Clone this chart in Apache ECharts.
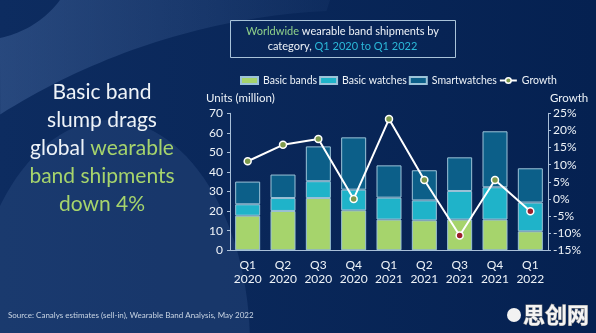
<!DOCTYPE html>
<html>
<head>
<meta charset="utf-8">
<script src="https://cdn.jsdelivr.net/npm/echarts@6/dist/echarts.min.js"></script>
<style>
  html, body { margin: 0; padding: 0; background: #0a2858; }
  #chart-container { width: 596px; height: 333px; }
</style>
</head>
<body>
<div id="chart-container"></div>
<script>
var quarters = ['Q1\n2020', 'Q2\n2020', 'Q3\n2020', 'Q4\n2020', 'Q1\n2021', 'Q2\n2021', 'Q3\n2021', 'Q4\n2021', 'Q1\n2022'];
var basicBands = [17.7, 20.1, 26.7, 20.4, 15.7, 15.3, 15.7, 15.7, 9.7];
var basicWatches = [5.8, 6.6, 8.6, 10.6, 11.2, 10.2, 14.6, 16.5, 14.7];
var smartwatches = [11.6, 12.0, 17.8, 26.7, 16.5, 15.4, 17.2, 28.6, 17.5];
var growth = [11.0, 15.8, 17.5, 0.0, 23.3, 5.5, -10.7, 5.5, -3.6];

var FONT = 'Lato';
var WHITE = '#eef3f8';
var GREEN = '#a6d46c';
var AXIS = '#a9bfd8';

// points along an ellipse arc, for the background shapes
function arcPts(cx, cy, rx, ry, a0, a1, n) {
  var pts = [];
  for (var i = 0; i <= n; i++) {
    var a = a0 + (a1 - a0) * i / n;
    pts.push([cx + rx * Math.cos(a), cy + ry * Math.sin(a)]);
  }
  return pts;
}

var deg = Math.PI / 180;
// swoosh: top edge, big circle arc back to the left edge, then corner arc
var swoosh = [[60, 0], [330, 0]]
  .concat(arcPts(362, 689, 679, 679, -93 * deg, -122.2 * deg, 40))
  .concat(arcPts(-20, -60, 100, 100, 78.5 * deg, 36.9 * deg, 20));
var lowCircle = arcPts(110, 345, 140, 225, 180 * deg, 360 * deg, 60);

var dom = document.getElementById('chart-container');
var myChart = echarts.init(dom, null, { renderer: 'canvas' });

var barBorder = { borderColor: '#9cc3d8', borderWidth: 1 };

var option = {
  backgroundColor: {
    type: 'linear', x: 0, y: 0, x2: 1, y2: 0,
    colorStops: [{ offset: 0, color: '#0d2c60' }, { offset: 1, color: '#052151' }]
  },
  animation: false,
  textStyle: { fontFamily: FONT },
  graphic: [
    {
      type: 'polygon', z: -10, silent: true,
      shape: { points: swoosh },
      style: {
        fill: {
          type: 'linear', x: 0, y: 0, x2: 1, y2: 0,
          colorStops: [{ offset: 0, color: 'rgba(80,115,170,0.40)' }, { offset: 1, color: 'rgba(80,115,170,0.08)' }]
        }
      }
    },
    {
      type: 'polygon', z: -10, silent: true,
      shape: { points: lowCircle },
      style: { fill: 'rgba(80,115,170,0.2)' }
    },
    // title box
    {
      type: 'rect', left: 230, top: 20,
      shape: { width: 225, height: 37 },
      style: { fill: 'rgba(0,0,0,0)', stroke: '#a9c3d9', lineWidth: 1 }
    },
    {
      type: 'text', x: 342.5, y: 38.5,
      style: {
        text: '{g|Worldwide} wearable band shipments by\ncategory, {c|Q1 2020 to Q1 2022}',
        align: 'center', verticalAlign: 'middle',
        fill: WHITE, font: '11px ' + FONT, lineHeight: 15,
        rich: {
          g: { fill: '#8fd08a', font: '11px ' + FONT },
          c: { fill: '#2bb8d8', font: '11px ' + FONT }
        }
      }
    },
    // headline
    {
      type: 'text', x: 102, y: 148,
      style: {
        text: 'Basic band\nslump drags\nglobal {g|wearable}\n{g|band shipments}\n{g|down 4%}',
        align: 'center', verticalAlign: 'middle',
        fill: WHITE, font: '21px ' + FONT, lineHeight: 28,
        rich: { g: { fill: GREEN, font: '21px ' + FONT } }
      }
    },
    // axis names
    {
      type: 'text', x: 206, y: 98,
      style: { text: 'Units (million)', fill: WHITE, font: '11.5px ' + FONT, verticalAlign: 'middle' }
    },
    {
      type: 'text', x: 550, y: 98,
      style: { text: 'Growth', fill: WHITE, font: '11.5px ' + FONT, verticalAlign: 'middle' }
    },
    // source
    {
      type: 'text', x: 8, y: 315,
      style: {
        text: 'Source: Canalys estimates (sell-in), Wearable Band Analysis, May 2022',
        fill: '#c9d5e4', font: '8px ' + FONT, verticalAlign: 'middle'
      }
    },
    // watermark
    {
      type: 'circle', shape: { cx: 514, cy: 315, r: 7 },
      style: { fill: '#f2f2f2' }
    },
    {
      type: 'text', x: 523, y: 315,
      style: {
        text: '思创网', fill: '#f4f4f4', stroke: '#8a8a8a', lineWidth: 1,
        font: 'bold 22px "Noto Sans CJK SC"', verticalAlign: 'middle'
      }
    }
  ],
  legend: {
    data: [
      { name: 'Basic bands', icon: 'rect' },
      { name: 'Basic watches', icon: 'rect' },
      { name: 'Smartwatches', icon: 'rect' },
      { name: 'Growth', itemStyle: { color: '#7e9a4c', borderColor: '#ffffff', borderWidth: 1.5 } }
    ],
    left: 235,
    top: 70,
    itemWidth: 17,
    itemHeight: 7,
    itemGap: 2,
    textStyle: { color: WHITE, fontSize: 10.5, fontFamily: FONT }
  },
  grid: {
    left: 230,
    right: 48,
    top: 113.3,
    bottom: 82.7
  },
  xAxis: {
    type: 'category',
    data: quarters,
    axisLine: { lineStyle: { color: AXIS, width: 1 } },
    axisTick: { show: false },
    axisLabel: { color: WHITE, fontSize: 12, lineHeight: 14, margin: 8, interval: 0 }
  },
  yAxis: [
    {
      type: 'value',
      min: 0, max: 70, interval: 10,
      axisLine: { show: true, lineStyle: { color: AXIS } },
      axisTick: { show: true, length: 3, lineStyle: { color: AXIS } },
      axisLabel: { color: WHITE, fontSize: 12, margin: 7 },
      splitLine: { show: false }
    },
    {
      type: 'value',
      min: -15, max: 25, interval: 5,
      position: 'right',
      axisLine: { show: true, lineStyle: { color: AXIS } },
      axisTick: { show: true, length: 3, lineStyle: { color: AXIS } },
      axisLabel: { color: WHITE, fontSize: 12, margin: 5, formatter: '{value}%' },
      splitLine: { show: false }
    }
  ],
  series: [
    {
      name: 'Basic bands', type: 'bar', stack: 'units', barWidth: 25,
      data: basicBands,
      itemStyle: Object.assign({ color: GREEN }, barBorder)
    },
    {
      name: 'Basic watches', type: 'bar', stack: 'units', barWidth: 25,
      data: basicWatches,
      itemStyle: Object.assign({ color: '#1fb3c9' }, barBorder)
    },
    {
      name: 'Smartwatches', type: 'bar', stack: 'units', barWidth: 25,
      data: smartwatches,
      itemStyle: Object.assign({ color: '#0c5f89' }, barBorder)
    },
    {
      name: 'Growth', type: 'line', yAxisIndex: 1,
      data: growth.map(function (v) {
        return v < 0 ? { value: v, itemStyle: { color: '#9b1f2c' } } : v;
      }),
      symbol: 'circle', symbolSize: 7,
      lineStyle: { color: '#ffffff', width: 2 },
      itemStyle: { color: '#7e9a4c', borderColor: '#ffffff', borderWidth: 1.5 },
      z: 5
    }
  ]
};

myChart.setOption(option);
window.addEventListener('resize', myChart.resize);
</script>
</body>
</html>
